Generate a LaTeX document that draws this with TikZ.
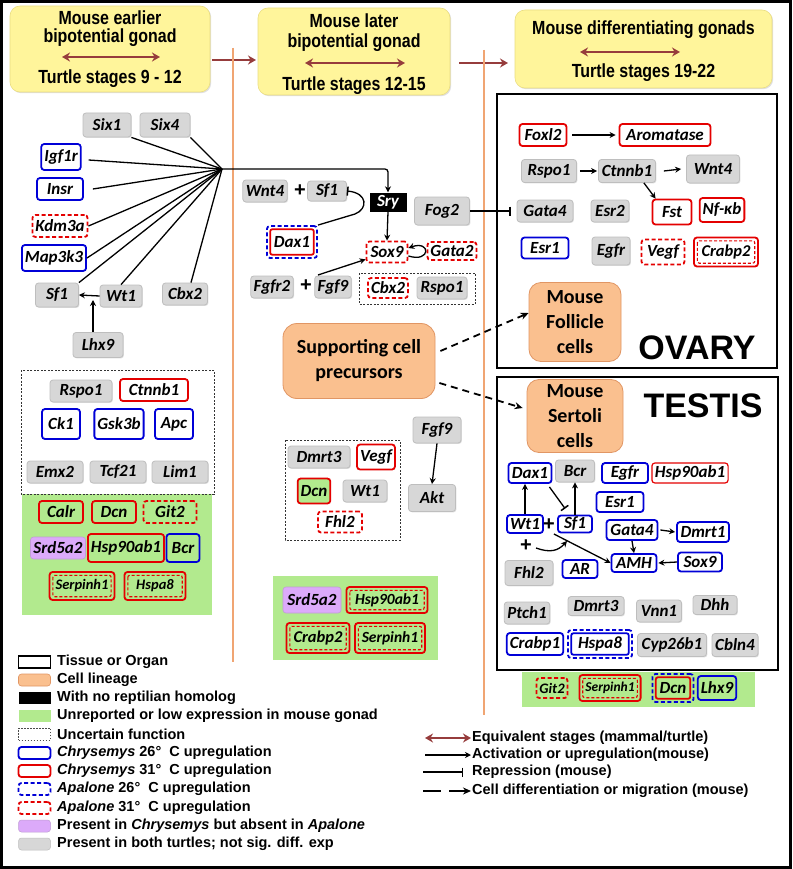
\documentclass[tikz,border=0pt]{standalone}
\usepackage{fontspec}
\setmainfont{Liberation Sans}
\newfontfamily\genefont{Carlito}
\newfontfamily\hdrfont{Liberation Sans}[FakeStretch=0.84]
\usetikzlibrary{arrows.meta,shadows}
\definecolor{hdrY}{RGB}{255,245,155}
\definecolor{hdrD}{RGB}{235,222,130}
\definecolor{brn}{RGB}{150,60,60}
\definecolor{orl}{RGB}{240,165,115}
\definecolor{orf}{RGB}{250,192,143}
\definecolor{ord}{RGB}{225,150,100}
\definecolor{gfill}{RGB}{215,215,215}
\definecolor{gdraw}{RGB}{190,190,190}
\definecolor{cBlue}{RGB}{0,0,215}
\definecolor{cRed}{RGB}{228,0,0}
\definecolor{grn}{RGB}{178,234,142}
\definecolor{prp}{RGB}{220,170,250}
\tikzset{
  gene/.style={rounded corners=3pt, font=\genefont\bfseries\itshape\fontsize{17pt}{19pt}\selectfont, inner xsep=3pt, inner ysep=1pt, minimum height=22pt},
  gG/.style={gene, fill=gfill, draw=gdraw, line width=0.8pt, drop shadow={shadow xshift=0.9pt, shadow yshift=-0.9pt, opacity=0.25}},
  gB/.style={gene, draw=cBlue, line width=1.8pt, fill=white},
  gR/.style={gene, draw=cRed, line width=1.8pt, fill=white},
  gRd/.style={gene, draw=cRed, line width=1.8pt, fill=white, dash pattern=on 4pt off 2.5pt},
  gP/.style={gene, fill=prp, draw=prp!70!gray, line width=0.6pt},
  inset/.style={path picture={\draw[#1, rounded corners=2pt] ([shift={(3.3pt,-3.3pt)}]path picture bounding box.north west) rectangle ([shift={(-3.3pt,3.3pt)}]path picture bounding box.south east);}},
  dRR/.style={gene, draw=cRed, line width=1.8pt, inset={cRed, line width=1.1pt, dash pattern=on 3pt off 2pt}, inner xsep=6pt, minimum height=28pt, font=\genefont\bfseries\itshape\fontsize{15.5pt}{17pt}\selectfont},
  dBR/.style={gene, draw=cBlue, line width=1.8pt, dash pattern=on 4pt off 2.5pt, inset={cRed, solid, line width=1.8pt}, inner xsep=7pt, minimum height=30pt},
  dBB/.style={gene, draw=cBlue, line width=1.8pt, dash pattern=on 4pt off 2.5pt, inset={cBlue, solid, line width=1.8pt}, inner xsep=7pt, minimum height=28pt},
  conn/.style={line width=1.3pt, black},
  arr/.style={conn, -{Stealth[length=6pt, width=6pt]}},
  rep/.style={conn, -{Bar[width=9pt, line width=1.5pt]}},
  darr/.style={line width=1.8pt, dash pattern=on 7pt off 5pt, -{Stealth[length=8pt, width=7pt]}},
  brar/.style={brn, line width=2.6pt, -{Stealth[length=8pt, width=9pt]}},
  brdbl/.style={brn, line width=2.6pt, {Stealth[length=8pt, width=9pt]}-{Stealth[length=8pt, width=9pt]}},
  unc/.style={draw=black!80, line width=0.6pt, dash pattern=on 2pt off 1.5pt},
  cell/.style={rounded corners=12pt, fill=orf, draw=ord, line width=0.8pt, font=\genefont\bfseries\fontsize{20pt}{25pt}\selectfont, align=center, inner sep=2pt},
  hdrbox/.style={rounded corners=10pt, fill=hdrY, draw=hdrD, line width=0.6pt, drop shadow={shadow xshift=1.2pt, shadow yshift=-1.2pt, opacity=0.25}},
  hdrtxt/.style={font=\hdrfont\bfseries\fontsize{19pt}{21pt}\selectfont, inner sep=0pt},
  plus/.style={font=\bfseries\fontsize{20pt}{20pt}\selectfont, inner sep=0pt},
  organtxt/.style={font=\bfseries\fontsize{34pt}{34pt}\selectfont, inner sep=0pt},
  lgtxt/.style={anchor=west, font=\bfseries\fontsize{14.5pt}{16pt}\selectfont, inner sep=0pt},
  sw/.style={minimum width=32pt, minimum height=12pt, inner sep=0pt},
}
\begin{document}
\begin{tikzpicture}[x=1pt,y=-1pt]
\useasboundingbox (0,0) rectangle (792,869);
\fill[white] (0,0) rectangle (792,869);
\draw[line width=3pt] (1.5,1.5) rectangle (790.5,867.5);

% ---------- headers ----------
\node[hdrbox, minimum width=200pt, minimum height=86pt] (h1) at (110,49) {};
\node[hdrtxt] (h1a) at (110,18) {Mouse earlier};
\node[hdrtxt] (h1b) at (110,38) {bipotential gonad};
\coordinate (h1l) at (62,57); \coordinate (h1r) at (160,57);
\draw[brdbl] (h1l) -- (h1r);
\node[hdrtxt] (h1c) at (110,79) {Turtle stages 9 - 12};

\node[hdrbox, minimum width=192pt, minimum height=87pt] (h2) at (354,51.5) {};
\node[hdrtxt] (h2a) at (354,21) {Mouse later};
\node[hdrtxt] (h2b) at (354,43) {bipotential gonad};
\coordinate (h2l) at (305,63); \coordinate (h2r) at (405,63);
\draw[brdbl] (h2l) -- (h2r);
\node[hdrtxt] (h2c) at (354,86) {Turtle stages 12-15};

\node[hdrbox, minimum width=257pt, minimum height=78pt] (h3) at (643.5,49) {};
\node[hdrtxt] (h3a) at (643.5,30) {Mouse differentiating gonads};
\coordinate (h3l) at (580,52); \coordinate (h3r) at (680,52);
\draw[brdbl] (h3l) -- (h3r);
\node[hdrtxt] (h3c) at (643.5,73) {Turtle stages 19-22};

\coordinate (ha1) at (212,60); \coordinate (ha2) at (256,60);
\draw[brar] (ha1) -- (ha2);
\coordinate (hb1) at (459,63); \coordinate (hb2) at (508,63);
\draw[brar] (hb1) -- (hb2);
\draw[orl, line width=2.5pt] (233,48) -- (233,662);
\draw[orl, line width=2.5pt] (484,50) -- (484,715);

% ---------- left column ----------
\node[gG, minimum width=48pt, minimum height=24pt] (six1) at (107,125) {Six1};
\node[gG, minimum width=50pt, minimum height=24pt] (six4) at (165,125) {Six4};
\node[gB, minimum height=26pt] (igf1r) at (61,157) {Igf1r};
\node[gB, minimum width=46pt] (insr) at (60,189) {Insr};
\node[gRd] (kdm3a) at (60,226) {Kdm3a};
\node[gB, minimum height=26pt] (map3k3) at (54,258) {Map3k3};
\node[gG, minimum width=43pt, minimum height=24pt] (sf1L) at (57,295) {Sf1};
\node[gG, minimum width=42pt] (wt1L) at (121,296) {Wt1};
\node[gG, minimum width=45pt] (cbx2L) at (185,294) {Cbx2};
\node[gG, minimum width=50pt, minimum height=25pt] (lhx9L) at (98,345) {Lhx9};

\coordinate (hub) at (222,169);
\draw[conn] (six1.south east) -- (hub);
\draw[conn] (six4.south east) -- (hub);
\draw[conn] ([shift={(7pt,-3pt)}]igf1r.east) -- (hub);
\draw[conn] ([xshift=9pt]insr.east) -- (hub);
\draw[conn] (kdm3a.east) -- (hub);
\draw[conn] (map3k3.east) -- (hub);
\draw[conn] (sf1L.north east) -- (hub);
\draw[conn] (wt1L.north) -- (hub);
\draw[conn] ([xshift=6pt]cbx2L.north) -- (hub);
\draw[arr] (wt1L.west) -- (sf1L.east);
\coordinate (lhxtip) at (93,300);
\draw[arr] (lhxtip |- lhx9L.north) -- (lhxtip);

\fill[grn] (22,494) rectangle (212,615);
\draw[unc] (21,370) rectangle (214,494);
\node[gG, minimum width=62pt] (rspo1L) at (81,391) {Rspo1};
\node[gR, minimum width=68pt] (ctnnb1L) at (154,390) {Ctnnb1};
\node[gB, minimum width=38pt, minimum height=30pt] (ck1) at (61,424) {Ck1};
\node[gB, minimum width=49pt, minimum height=30pt] (gsk3b) at (119,424) {Gsk3b};
\node[gB, minimum width=38pt, minimum height=30pt] (apc) at (174,424) {Apc};
\node[gG, minimum width=56pt] (emx2) at (55,472) {Emx2};
\node[gG, minimum width=56pt] (tcf21) at (118,472) {Tcf21};
\node[gG, minimum width=56pt] (lim1) at (180,472) {Lim1};

\node[gR, fill=none, minimum width=44pt] (calr) at (61,512) {Calr};
\node[gR, fill=none, minimum width=44pt] (dcnL) at (114,512) {Dcn};
\node[gRd, fill=none, minimum width=53pt] (git2L) at (170,512) {Git2};
\node[gP, minimum width=53pt] (srd5a2L) at (58,548) {Srd5a2};
\node[gR, fill=none, minimum height=28pt] (hsp90L) at (126,548) {Hsp90ab1};
\node[gB, fill=none, minimum height=28pt, minimum width=33pt] (bcrL) at (183,548) {Bcr};
\node[dRR, minimum width=61pt, font=\genefont\bfseries\itshape\fontsize{14.5pt}{16pt}\selectfont] (serpL) at (82,586) {Serpinh1};
\node[dRR, minimum width=61pt, font=\genefont\bfseries\itshape\fontsize{14.5pt}{16pt}\selectfont] (hspa8L) at (155,586) {Hspa8};

% ---------- middle column ----------
\node[gG] (wnt4M) at (265,191) {Wnt4};
\node[plus] (plusA) at (300,191) {+};
\node[gG, minimum width=39pt, minimum height=20pt] (sf1M) at (327,191) {Sf1};
\node[gene, fill=black, text=white, rounded corners=0pt, minimum width=37pt, minimum height=19pt] (sry) at (388,202) {Sry};
\node[dBR, minimum width=50pt, minimum height=32pt] (dax1M) at (292,242) {Dax1};
\node[gG, minimum width=55pt, minimum height=28pt] (fog2) at (442,211) {Fog2};
\node[gRd, minimum width=41pt, minimum height=21pt] (sox9M) at (387,252) {Sox9};
\node[gRd, minimum width=46pt, minimum height=18pt] (gata2M) at (452,251) {Gata2};
\node[gG] (fgfr2) at (272,287) {Fgfr2};
\node[plus] (plusB) at (306,286) {+};
\node[gG] (fgf9M) at (333,287) {Fgf9};
\draw[unc] (359,273) rectangle (475,304);
\node[gRd, minimum height=20pt] (cbx2M) at (388,288) {Cbx2};
\node[gG, minimum width=50pt] (rspo1M) at (442,288) {Rspo1};

\draw[arr, rounded corners=3pt] (hub) -- (sry.north |- hub) -- (sry.north);
\draw[arr] (sry.south) -- (sox9M.north);
\draw[arr] ([yshift=-4pt]sox9M.east) .. controls (431,263) and (431,240) .. ([yshift=4pt]sox9M.east);
\coordinate (daxc) at (355,214);
\draw[rep] (dax1M.north east) -- (daxc) .. controls (368,209) and (368,193) .. (sf1M.east);
\coordinate (fgfst) at (318,275);
\draw[arr] (fgfst) -- ([yshift=4pt]sox9M.south west);

\node[cell, minimum width=152pt, minimum height=75pt, rounded corners=14pt] (support) at (359,361) {Supporting cell\\precursors};

\node[gG, minimum width=48pt, minimum height=26pt] (fgf9b) at (437,430) {Fgf9};
\node[gG, minimum width=47pt, minimum height=27pt] (akt) at (432,498) {Akt};
\draw[arr] (fgf9b.south) -- (akt.north);
\draw[unc] (285,440) rectangle (400,540);
\node[gG, minimum width=62pt] (dmrt3M) at (319,457) {Dmrt3};
\node[gR, minimum height=25pt] (vegfM) at (376,457) {Vegf};
\node[gR, fill=grn, minimum height=25pt] (dcnM) at (314,491) {Dcn};
\node[gG, minimum width=44pt] (wt1M) at (365,491) {Wt1};
\node[gRd, minimum width=44pt, minimum height=21pt] (fhl2M) at (340,522) {Fhl2};

\fill[grn] (273,576) rectangle (438,660);
\node[gP, minimum width=58pt, minimum height=26pt] (srd5a2M) at (312,600) {Srd5a2};
\node[dRR, minimum width=81pt, minimum height=26pt] (hsp90M) at (387,600) {Hsp90ab1};
\node[dRR, minimum width=63pt, minimum height=30pt, font=\genefont\bfseries\itshape\fontsize{16.5pt}{18pt}\selectfont] (crabp2M) at (318,638) {Crabp2};
\node[dRR, minimum width=70pt, minimum height=30pt] (serpM) at (390,638) {Serpinh1};

% ---------- ovary ----------
\draw[line width=2.5pt] (497,94) rectangle (777,368);
\node[gR, minimum width=47pt] (foxl2) at (543,135) {Foxl2};
\node[gR, minimum width=91pt] (arom) at (665,135) {Aromatase};
\node[gG, minimum width=55pt, minimum height=23pt] (rspo1O) at (549,171) {Rspo1};
\node[gG, minimum width=57pt, minimum height=23pt] (ctnnb1O) at (627,171) {Ctnnb1};
\node[gG, minimum width=53pt, minimum height=28pt] (wnt4O) at (713,169) {Wnt4};
\node[gG, minimum width=56pt] (gata4O) at (545,211) {Gata4};
\node[gG, minimum width=38pt] (esr2O) at (610,211) {Esr2};
\node[gR, minimum width=39pt, minimum height=25pt] (fstO) at (672,212) {Fst};
\node[gR, minimum width=42pt, minimum height=24pt] (nfkb) at (722,210) {Nf-κb};
\node[gB, minimum width=47pt, minimum height=21pt] (esr1O) at (545,248) {Esr1};
\node[gG, minimum width=38pt, minimum height=28pt] (egfrO) at (611,251) {Egfr};
\node[gRd, minimum width=43pt, minimum height=25pt] (vegfO) at (663,252) {Vegf};
\node[dRR, minimum width=64pt, minimum height=29pt, font=\genefont\bfseries\itshape\fontsize{16.5pt}{18pt}\selectfont] (crabp2O) at (726,252) {Crabp2};
\node[cell, minimum width=92pt, minimum height=79pt] (follicle) at (575,322) {Mouse\\Follicle\\cells};
\node[organtxt] (ovary) at (697,348) {OVARY};

\draw[arr] ([xshift=5pt]foxl2.east) -- ([xshift=-3pt]arom.west);
\draw[arr] ([xshift=3pt]rspo1O.east) -- ([xshift=-1pt]ctnnb1O.west);
\draw[arr] ([xshift=8pt]ctnnb1O.east) -- ([xshift=-5pt]wnt4O.west);
\draw[arr] ([xshift=-12pt]ctnnb1O.south east) -- ([xshift=4pt]fstO.north west);
\draw[rep, shorten >=6pt] (fog2.east) -- (gata4O.west);

% ---------- testis ----------
\draw[line width=2.5pt] (497,377) rectangle (778,670);
\node[cell, minimum width=96pt, minimum height=73pt] (sertoli) at (575,416) {Mouse\\Sertoli\\cells};
\node[organtxt] (testis) at (703,406) {TESTIS};
\node[gB, minimum width=43pt, minimum height=20pt] (dax1T) at (530,473) {Dax1};
\node[gG, minimum width=39pt] (bcrT) at (575,471) {Bcr};
\node[gB, minimum width=46pt, minimum height=20pt] (egfrT) at (625,473) {Egfr};
\node[gR, minimum width=74pt, minimum height=20pt, line width=1.2pt] (hsp90T) at (690,473) {Hsp90ab1};
\node[gB, minimum width=47pt, minimum height=20pt] (esr1T) at (620,502) {Esr1};
\node[gB, minimum width=36pt, minimum height=18pt] (wt1T) at (525,524) {Wt1};
\node[plus] (plusT) at (549,525) {+};
\node[gB, minimum width=34pt, minimum height=17pt] (sf1T) at (575,524) {Sf1};
\node[gB, minimum width=51pt, minimum height=20pt] (gata4T) at (632,530) {Gata4};
\node[gB, minimum width=52pt, minimum height=20pt] (dmrt1T) at (703,532) {Dmrt1};
\node[gB, minimum width=45pt, minimum height=18pt] (amhT) at (634,563) {AMH};
\node[gB, minimum width=44pt, minimum height=19pt] (sox9T) at (700,562) {Sox9};
\node[gG, minimum width=48pt, minimum height=25pt] (fhl2T) at (529,573) {Fhl2};
\node[gB, minimum width=35pt, minimum height=18pt] (arT) at (580,569) {AR};
\node[plus] (plusT2) at (526,546) {+};
\node[gG, minimum width=45pt] (ptch1) at (527,613) {Ptch1};
\node[gG, minimum width=56pt, minimum height=19pt] (dmrt3T) at (596,606) {Dmrt3};
\node[gG, minimum width=45pt] (vnn1) at (659,611) {Vnn1};
\node[gG, minimum width=44pt, minimum height=19pt] (dhh) at (715,605) {Dhh};
\node[gB, minimum width=55pt] (crabp1) at (535,644) {Crabp1};
\node[dBB, minimum width=64pt, minimum height=28pt] (hspa8T) at (600,644) {Hspa8};
\node[gG, minimum width=69pt, minimum height=23pt] (cyp) at (672,645) {Cyp26b1};
\node[gG, minimum width=46pt, minimum height=23pt] (cbln4) at (735,645) {Cbln4};

\draw[arr] (wt1T.north) -- (wt1T.north |- dax1T.south);
\draw[rep] ([shift={(-3pt,-3pt)}]dax1T.south east) -- ([shift={(8pt,6pt)}]sf1T.north west);
\draw[arr] (sf1T.north) -- (sf1T.north |- bcrT.south);
\draw[arr] ([xshift=2pt]gata4T.east) -- ([xshift=-1pt]dmrt1T.west);
\draw[arr] (gata4T.south) -- (amhT.north);
\draw[arr] (sox9T.west) -- ([xshift=1pt]amhT.east);
\draw[arr] ([shift={(10pt,-10pt)}]wt1T.east) -- (amhT.west);
\coordinate (cvA) at (536,548); \coordinate (cvB) at (567,541);
\draw[arr] (cvA) .. controls (550,553) and (558,551) .. (cvB);

\fill[grn] (522,672) rectangle (755,707);
\node[gRd, fill=none, minimum height=20pt, font=\genefont\bfseries\itshape\fontsize{14.5pt}{16pt}\selectfont] (git2T) at (552,688) {Git2};
\node[dRR, minimum width=60pt, minimum height=26pt, font=\genefont\bfseries\itshape\fontsize{13.5pt}{15pt}\selectfont] (serpT) at (610,688) {Serpinh1};
\node[dBR, minimum width=41pt, minimum height=28pt] (dcnT) at (673,688) {Dcn};
\node[gB, fill=none, minimum width=37pt, minimum height=24pt] (lhx9T) at (717,688) {Lhx9};

% ---------- dashed differentiation arrows ----------
\draw[darr] ([shift={(5pt,10pt)}]support.east) -- ([yshift=9pt]follicle.west);
\draw[darr] ([shift={(4pt,-22pt)}]support.east) -- ([shift={(-4pt,8pt)}]sertoli.west);

% ---------- legend left ----------
\node[sw, draw=black, line width=1.8pt, fill=white] (s1) at (34.5,662) {};
\node[sw, fill=orf, draw=ord, line width=0.6pt, rounded corners=3pt] (s2) at (34.5,680) {};
\node[sw, fill=black] (s3) at (34.5,698) {};
\node[sw, fill=grn] (s4) at (34.5,716) {};
\node[sw, draw=black!70, line width=0.5pt, dash pattern=on 1.5pt off 1.5pt] (s5) at (34.5,734) {};
\node[sw, draw=cBlue, line width=1.8pt, rounded corners=3pt] (s6) at (34.5,753) {};
\node[sw, draw=cRed, line width=1.8pt, rounded corners=3pt] (s7) at (34.5,771) {};
\node[sw, draw=cBlue, line width=1.8pt, rounded corners=3pt, dash pattern=on 4pt off 2.5pt] (s8) at (34.5,789) {};
\node[sw, draw=cRed, line width=1.8pt, rounded corners=3pt, dash pattern=on 4pt off 2.5pt] (s9) at (34.5,808) {};
\node[sw, fill=prp, draw=prp!70!gray, line width=0.5pt, rounded corners=3pt] (s10) at (34.5,826) {};
\node[sw, fill=gfill, draw=gdraw, line width=0.5pt, rounded corners=3pt] (s11) at (34.5,844) {};
\node[lgtxt] (t1) at (57,662) {Tissue or Organ};
\node[lgtxt] (t2) at (57,680) {Cell lineage};
\node[lgtxt] (t3) at (57,698) {With no reptilian homolog};
\node[lgtxt] (t4) at (57,716) {Unreported or low expression in mouse gonad};
\node[lgtxt] (t5) at (57,734) {Uncertain function};
\node[lgtxt] (t6) at (57,753) {\textit{Chrysemys} 26°~~C upregulation};
\node[lgtxt] (t7) at (57,771) {\textit{Chrysemys} 31°~~C upregulation};
\node[lgtxt] (t8) at (57,789) {\textit{Apalone} 26°~~C upregulation};
\node[lgtxt] (t9) at (57,808) {\textit{Apalone} 31°~~C upregulation};
\node[lgtxt] (t10) at (57,826) {Present in \textit{Chrysemys} but absent in \textit{Apalone}};
\node[lgtxt] (t11) at (57,844) {Present in both turtles; not sig. diff. exp};

% ---------- legend right ----------
\coordinate (r1a) at (425,738); \coordinate (r1b) at (471,738);
\draw[brdbl] (r1a) -- (r1b);
\coordinate (r2a) at (425,755); \coordinate (r2b) at (471,755);
\draw[arr] (r2a) -- (r2b);
\coordinate (r3a) at (423,772); \coordinate (r3b) at (463,772);
\draw[rep] (r3a) -- (r3b);
\coordinate (r4a) at (423,791); \coordinate (r4b) at (471,791);
\draw[line width=1.8pt, dash pattern=on 18pt off 8pt, -{Stealth[length=8pt, width=7pt]}] (r4a) -- (r4b);
\node[lgtxt] (u1) at (472,738) {Equivalent stages (mammal/turtle)};
\node[lgtxt] (u2) at (472,755) {Activation or upregulation(mouse)};
\node[lgtxt] (u3) at (472,772) {Repression (mouse)};
\node[lgtxt] (u4) at (472,791) {Cell differentiation or migration (mouse)};
\end{tikzpicture}
\end{document}
